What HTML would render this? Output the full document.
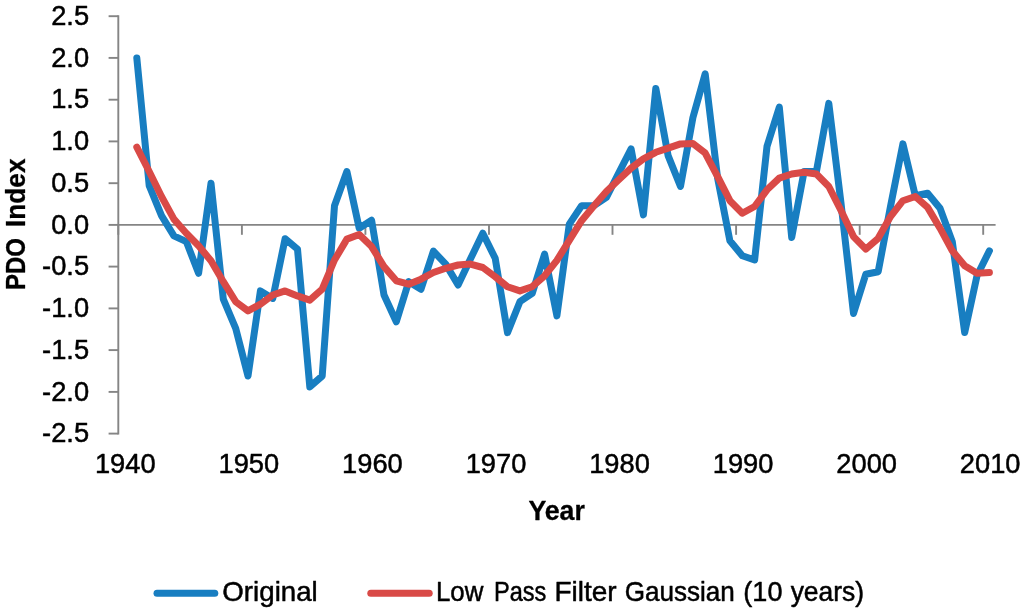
<!DOCTYPE html>
<html lang="en"><head><meta charset="utf-8"><title>PDO Index</title>
<style>html,body{margin:0;padding:0;background:#fff;}svg{display:block;}text{font-family:"Liberation Sans",sans-serif;fill:#000;stroke:#000;stroke-width:0.5px;stroke-linejoin:round;}.b{font-weight:bold;stroke-width:0.3px;}</style></head><body>
<svg width="1024" height="616" viewBox="0 0 1024 616">
<rect width="1024" height="616" fill="#fff"/>
<g stroke="#858585" stroke-width="1.9" fill="none" stroke-linecap="butt">
<line x1="118.3" y1="15.3" x2="118.3" y2="434.5"/>
<line x1="108.6" y1="16.2" x2="118.3" y2="16.2"/>
<line x1="108.6" y1="57.9" x2="118.3" y2="57.9"/>
<line x1="108.6" y1="99.7" x2="118.3" y2="99.7"/>
<line x1="108.6" y1="141.4" x2="118.3" y2="141.4"/>
<line x1="108.6" y1="183.2" x2="118.3" y2="183.2"/>
<line x1="108.6" y1="224.9" x2="118.3" y2="224.9"/>
<line x1="108.6" y1="266.6" x2="118.3" y2="266.6"/>
<line x1="108.6" y1="308.4" x2="118.3" y2="308.4"/>
<line x1="108.6" y1="350.1" x2="118.3" y2="350.1"/>
<line x1="108.6" y1="391.9" x2="118.3" y2="391.9"/>
<line x1="108.6" y1="433.6" x2="118.3" y2="433.6"/>
<line x1="118.3" y1="224.9" x2="995.6" y2="224.9"/>
<line x1="118.3" y1="224.9" x2="118.3" y2="234.8"/>
<line x1="241.9" y1="224.9" x2="241.9" y2="234.8"/>
<line x1="365.4" y1="224.9" x2="365.4" y2="234.8"/>
<line x1="489.0" y1="224.9" x2="489.0" y2="234.8"/>
<line x1="612.5" y1="224.9" x2="612.5" y2="234.8"/>
<line x1="736.1" y1="224.9" x2="736.1" y2="234.8"/>
<line x1="859.7" y1="224.9" x2="859.7" y2="234.8"/>
<line x1="983.2" y1="224.9" x2="983.2" y2="234.8"/>
</g>
<text transform="translate(89.10,24.85) scale(0.9780,1)" font-size="27.90" text-anchor="end">2.5</text>
<text transform="translate(89.10,66.60) scale(0.9780,1)" font-size="27.90" text-anchor="end">2.0</text>
<text transform="translate(89.10,108.35) scale(0.9780,1)" font-size="27.90" text-anchor="end">1.5</text>
<text transform="translate(89.10,150.10) scale(0.9780,1)" font-size="27.90" text-anchor="end">1.0</text>
<text transform="translate(89.10,191.85) scale(0.9780,1)" font-size="27.90" text-anchor="end">0.5</text>
<text transform="translate(89.10,233.60) scale(0.9780,1)" font-size="27.90" text-anchor="end">0.0</text>
<text transform="translate(89.10,275.35) scale(0.9780,1)" font-size="27.90" text-anchor="end">-0.5</text>
<text transform="translate(89.10,317.10) scale(0.9780,1)" font-size="27.90" text-anchor="end">-1.0</text>
<text transform="translate(89.10,358.85) scale(0.9780,1)" font-size="27.90" text-anchor="end">-1.5</text>
<text transform="translate(89.10,400.60) scale(0.9780,1)" font-size="27.90" text-anchor="end">-2.0</text>
<text transform="translate(89.10,442.35) scale(0.9780,1)" font-size="27.90" text-anchor="end">-2.5</text>
<text transform="translate(125.28,473.40) scale(0.9780,1)" font-size="27.90" text-anchor="middle">1940</text>
<text transform="translate(248.84,473.40) scale(0.9780,1)" font-size="27.90" text-anchor="middle">1950</text>
<text transform="translate(372.40,473.40) scale(0.9780,1)" font-size="27.90" text-anchor="middle">1960</text>
<text transform="translate(495.96,473.40) scale(0.9780,1)" font-size="27.90" text-anchor="middle">1970</text>
<text transform="translate(619.52,473.40) scale(0.9780,1)" font-size="27.90" text-anchor="middle">1980</text>
<text transform="translate(743.08,473.40) scale(0.9780,1)" font-size="27.90" text-anchor="middle">1990</text>
<text transform="translate(866.64,473.40) scale(0.9780,1)" font-size="27.90" text-anchor="middle">2000</text>
<text transform="translate(990.20,473.40) scale(0.9780,1)" font-size="27.90" text-anchor="middle">2010</text>
<text transform="translate(528.38,519.50) scale(0.9619,1)" font-size="27.80" text-anchor="start" class="b">Year</text>
<g transform="translate(25.1,288.8) rotate(-90)">
<text transform="translate(-1.29,0.00) scale(0.8623,1)" font-size="27.80" text-anchor="start" class="b">PDO</text>
<text transform="translate(61.88,0.00) scale(0.9425,1)" font-size="27.80" text-anchor="start" class="b">Index</text>
</g>
<polyline points="136.8,57.9 149.2,185.7 161.5,215.7 173.9,235.8 186.3,241.6 198.6,273.3 211.0,183.2 223.3,299.2 235.7,328.4 248.0,376.0 260.4,290.9 272.8,298.4 285.1,238.7 297.5,249.1 309.8,386.9 322.2,376.0 334.5,205.7 346.9,171.5 359.2,228.2 371.6,220.3 384.0,295.0 396.3,321.8 408.7,281.7 421.0,289.2 433.4,251.2 445.7,264.1 458.1,285.0 470.4,259.1 482.8,233.2 495.2,258.3 507.5,332.6 519.9,301.7 532.2,293.4 544.6,254.1 556.9,315.9 569.3,224.1 581.6,205.7 594.0,205.7 606.4,197.3 618.7,173.1 631.1,148.9 643.4,214.9 655.8,88.4 668.1,155.6 680.5,186.5 692.9,117.6 705.2,73.8 717.6,178.1 729.9,240.8 742.3,255.8 754.6,260.0 767.0,146.4 779.3,107.2 791.7,237.4 804.1,171.5 816.4,171.5 828.8,103.4 841.1,204.0 853.5,313.4 865.8,274.2 878.2,271.7 890.5,206.5 902.9,143.9 915.3,195.7 927.6,193.2 940.0,208.2 952.3,241.6 964.7,332.6 977.0,275.8 989.4,250.8" fill="none" stroke="#187EC1" stroke-width="7.0" stroke-linecap="round" stroke-linejoin="round"/>
<polyline points="136.8,147.2 149.2,171.5 161.5,196.5 173.9,219.1 186.3,233.2 198.6,245.8 211.0,260.8 223.3,281.7 235.7,301.7 248.0,310.9 260.4,304.2 272.8,295.0 285.1,290.9 297.5,295.9 309.8,300.1 322.2,289.2 334.5,260.0 346.9,239.1 359.2,234.5 371.6,246.6 384.0,266.6 396.3,280.8 408.7,284.2 421.0,279.2 433.4,272.5 445.7,268.3 458.1,265.0 470.4,264.1 482.8,267.5 495.2,276.7 507.5,286.7 519.9,290.9 532.2,286.7 544.6,275.8 556.9,260.4 569.3,240.3 581.6,220.7 594.0,205.7 606.4,191.5 618.7,179.8 631.1,168.1 643.4,158.9 655.8,152.3 668.1,148.1 680.5,143.9 692.9,143.5 705.2,153.1 717.6,176.5 729.9,200.7 742.3,213.2 754.6,206.5 767.0,189.8 779.3,178.1 791.7,174.0 804.1,172.3 816.4,174.0 828.8,186.5 841.1,210.7 853.5,236.6 865.8,249.1 878.2,238.3 890.5,216.6 902.9,200.7 915.3,196.5 927.6,207.4 940.0,228.2 952.3,250.8 964.7,265.8 977.0,273.3 989.4,272.5" fill="none" stroke="#D94A47" stroke-width="7.0" stroke-linecap="round" stroke-linejoin="round"/>
<line x1="157" y1="593.2" x2="214.8" y2="593.2" stroke="#187EC1" stroke-width="7.0" stroke-linecap="round"/>
<g>
<text transform="translate(222.34,601.00) scale(1.0107,1)" font-size="27.40" text-anchor="start">Original</text>
</g>
<line x1="370.8" y1="593.2" x2="429.2" y2="593.2" stroke="#D94A47" stroke-width="7.0" stroke-linecap="round"/>
<g>
<text transform="translate(435.98,601.00) scale(0.9444,1)" font-size="27.40" text-anchor="start">Low</text>
<text transform="translate(493.96,601.00) scale(0.8601,1)" font-size="27.40" text-anchor="start">Pass</text>
<text transform="translate(554.51,601.00) scale(1.0216,1)" font-size="27.40" text-anchor="start">Filter</text>
<text transform="translate(624.64,601.00) scale(0.9526,1)" font-size="27.40" text-anchor="start">Gaussian</text>
<text transform="translate(743.33,601.00) scale(0.9874,1)" font-size="27.40" text-anchor="start">(10</text>
<text transform="translate(790.65,601.00) scale(0.9655,1)" font-size="27.40" text-anchor="start">years)</text>
</g>
</svg></body></html>
